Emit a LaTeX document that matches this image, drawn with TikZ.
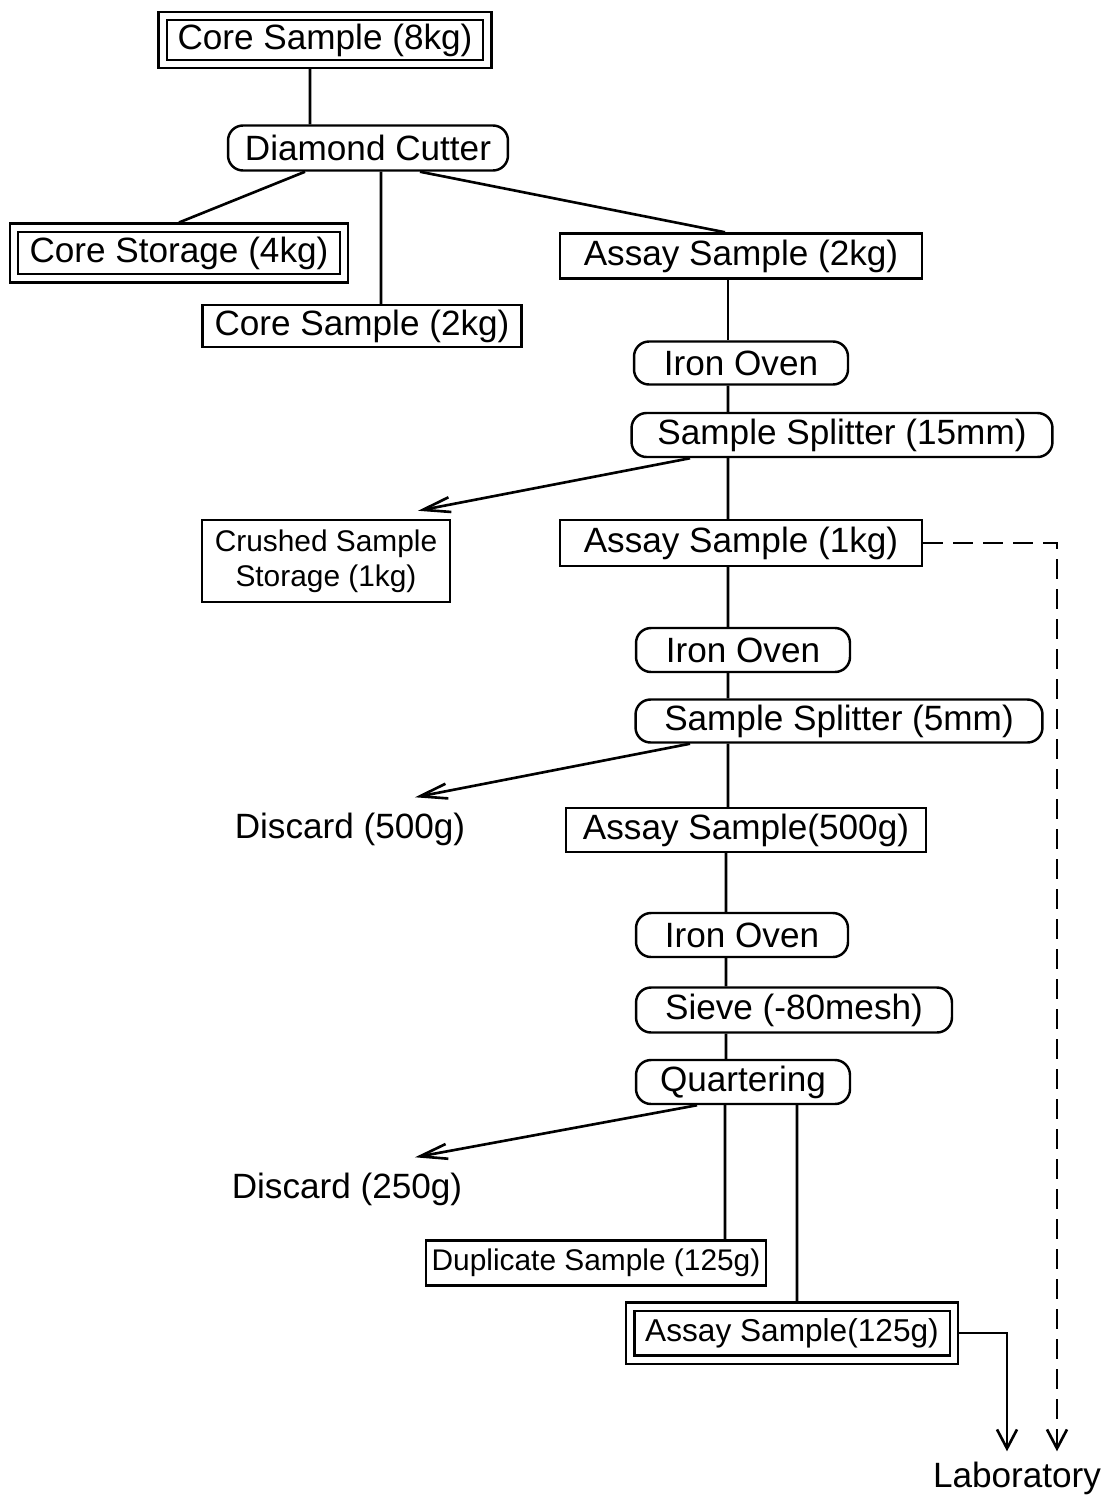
\documentclass[tikz,border=0pt]{standalone}
\usepackage{fontspec}
\setmainfont{Liberation Sans}
\usetikzlibrary{arrows.meta,calc}
\tikzset{
  bx/.style={draw=black,fill=white,line width=1.4pt,inner sep=2pt,font=\fontsize{20}{22}\selectfont},
  dbx/.style={bx,double,double distance=0.12cm,outer sep=0.1cm},
  prc/.style={bx,rounded corners=0.3cm},
  sml/.style={font=\fontsize{17}{20}\selectfont},
  lb/.style={font=\fontsize{20}{22}\selectfont,inner sep=0.3cm},
  lnk/.style={draw=black,line width=1.5pt},
  arr/.style={lnk,-{Straight Barb[length=0.55cm,width=0.3cm]}},
  arrd/.style={lnk,-{Straight Barb[length=0.38cm,width=0.4cm]}},
  dsh/.style={arrd,dash pattern=on 0.4cm off 0.2cm},
}
\begin{document}
\begin{tikzpicture}[x=0.02cm,y=-0.02cm]
\useasboundingbox (0,0) rectangle (1113,1497);
% --- cutting the core
\node[dbx,minimum width=6.5cm,minimum height=0.96cm] (core8) at (325,40) {Core Sample (8kg)};
\node[prc,minimum width=5.6cm,minimum height=0.9cm] (diam) at (368,148) {Diamond Cutter};
\node[dbx,minimum width=6.6cm,minimum height=1.02cm] (store4) at (179,253) {Core Storage (4kg)};
\node[bx,minimum width=6.38cm,minimum height=0.84cm] (cs2) at (362,326) {Core Sample (2kg)};
\node[bx,minimum width=7.24cm,minimum height=0.9cm] (as2) at (741,256) {Assay Sample (2kg)};
% --- first split, 15mm
\node[prc,minimum width=4.28cm,minimum height=0.86cm] (oven1) at (741,363) {Iron Oven};
\node[prc,minimum width=8.42cm,minimum height=0.88cm] (split15) at (842,435) {Sample Splitter (15mm)};
\node[bx,sml,minimum width=4.96cm,minimum height=1.64cm,align=center] (crush) at (326,561) {Crushed Sample\\Storage (1kg)};
\node[bx,minimum width=7.24cm,minimum height=0.92cm] (as1) at (741,543) {Assay Sample (1kg)};
% --- second split, 5mm
\node[prc,minimum width=4.28cm,minimum height=0.88cm] (oven2) at (743,650) {Iron Oven};
\node[prc,minimum width=8.14cm,minimum height=0.86cm] (split5) at (839,721) {Sample Splitter (5mm)};
\node[lb] (disc500) at (350,829) {Discard (500g)};
\node[bx,minimum width=7.2cm,minimum height=0.88cm] (as500) at (746,830) {Assay Sample(500g)};
% --- sieving and quartering
\node[prc,minimum width=4.24cm,minimum height=0.88cm] (oven3) at (742,935) {Iron Oven};
\node[prc,minimum width=6.32cm,minimum height=0.9cm] (sieve) at (794,1010) {Sieve (-80mesh)};
\node[prc,minimum width=4.28cm,minimum height=0.88cm] (quart) at (743,1082) {Quartering};
\node[lb] (disc250) at (347,1189) {Discard (250g)};
\node[bx,sml,minimum width=6.8cm,minimum height=0.9cm] (dup) at (596,1263) {Duplicate Sample (125g)};
\node[dbx,font=\fontsize{18}{20}\selectfont,minimum width=6.48cm,minimum height=1.06cm] (as125) at (792,1333) {Assay Sample(125g)};
\node[lb,inner sep=0.2cm] (lab) at (1017,1478) {Laboratory};

% links
\draw[lnk] ([xshift=-0.3cm]core8.south) -- ([xshift=-1.16cm]diam.north);
\draw[lnk] ([xshift=-1.26cm]diam.south) -- (store4.north);
\draw[lnk] ([xshift=0.26cm]diam.south) -- ([xshift=0.38cm]cs2.north);
\draw[lnk] ([xshift=1.04cm]diam.south) -- ([xshift=-0.32cm]as2.north);

\draw[lnk] ([xshift=-0.26cm]as2.south) -- ([xshift=-0.26cm]oven1.north);
\draw[lnk] ([xshift=-0.26cm]oven1.south) -- ([xshift=-2.28cm]split15.north);
\draw[lnk] ([xshift=-2.28cm]split15.south) -- ([xshift=-0.26cm]as1.north);
\draw[arr] ([xshift=-3.04cm]split15.south) -- ([xshift=1.84cm,yshift=0.16cm]crush.north);
\draw[dsh] (as1.east) -| ([xshift=0.8cm]lab.north);

\draw[lnk] ([xshift=-0.26cm]as1.south) -- ([xshift=-0.3cm]oven2.north);
\draw[lnk] ([xshift=-0.3cm]oven2.south) -- ([xshift=-2.22cm]split5.north);
\draw[lnk] ([xshift=-2.22cm]split5.south) -- ([xshift=-0.36cm]as500.north);
\draw[arr] ([xshift=-2.98cm]split5.south) -- ([xshift=1.3cm]disc500.north);

\draw[lnk] ([xshift=-0.4cm]as500.south) -- ([xshift=-0.32cm]oven3.north);
\draw[lnk] ([xshift=-0.32cm]oven3.south) -- ([xshift=-1.36cm]sieve.north);
\draw[lnk] ([xshift=-1.36cm]sieve.south) -- ([xshift=-0.34cm]quart.north);
\draw[arr] ([xshift=-0.92cm]quart.south) -- ([xshift=1.36cm]disc250.north);
\draw[lnk] ([xshift=-0.36cm]quart.south) -- ([xshift=2.58cm]dup.north);
\draw[lnk] ([xshift=1.08cm]quart.south) -- ([xshift=0.1cm]as125.north);
\draw[arrd] (as125.east) -| ([xshift=-0.2cm]lab.north);
\end{tikzpicture}
\end{document}
